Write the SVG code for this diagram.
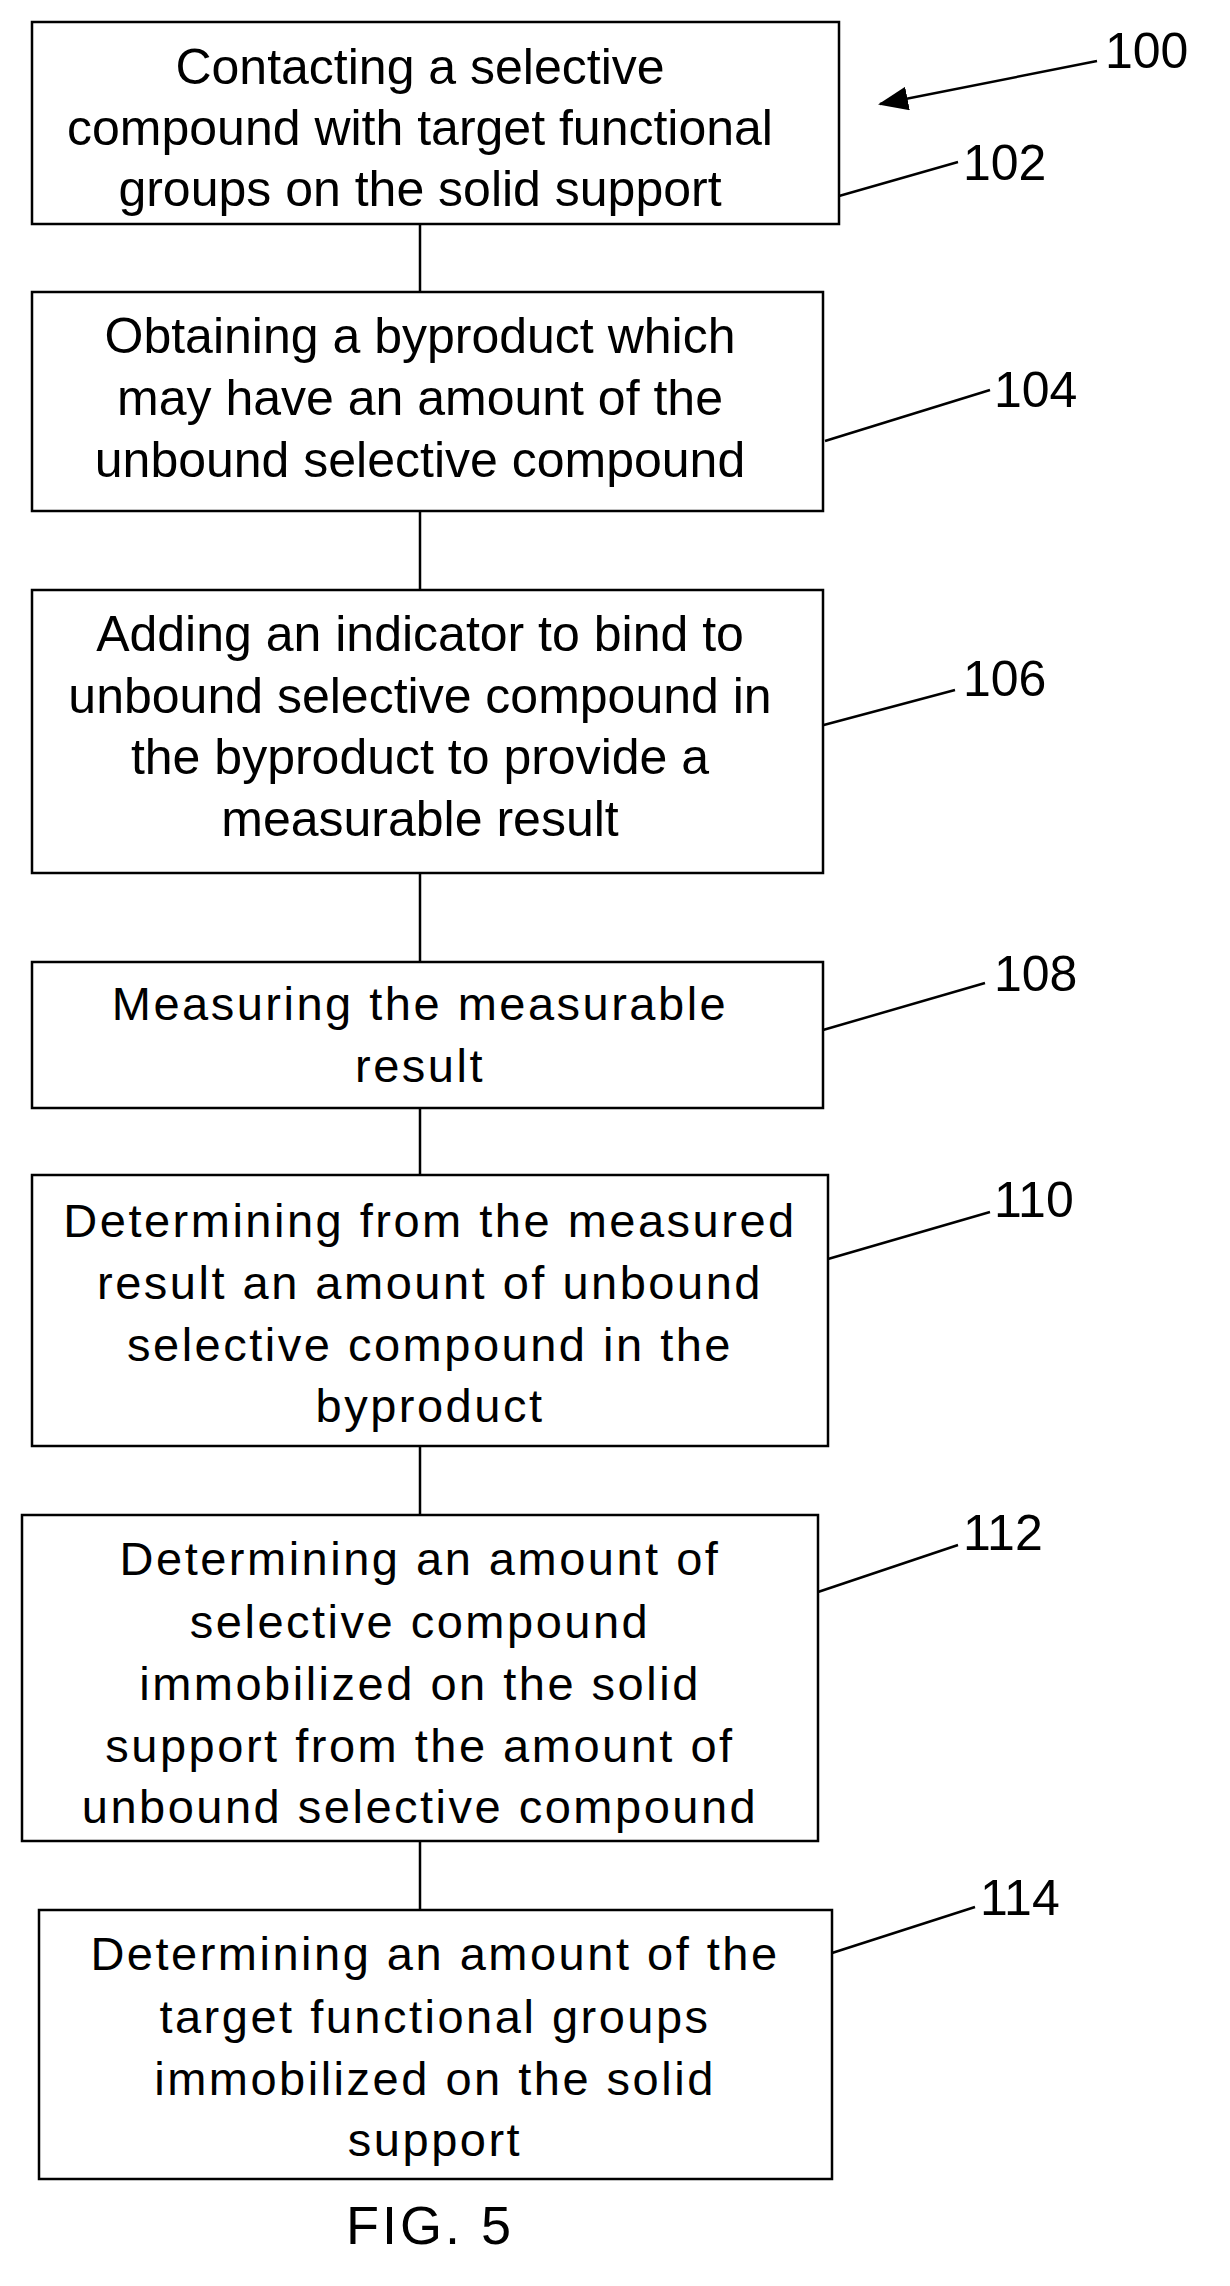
<svg xmlns="http://www.w3.org/2000/svg" width="1230" height="2286" viewBox="0 0 1230 2286">
<style>
.b{fill:#fff;stroke:#000;stroke-width:2.5}
.t{font-family:"Liberation Sans",Arial,sans-serif;font-size:50px;text-anchor:middle;fill:#000}
.w{font-size:47px;letter-spacing:2.5px}
.n{font-family:"Liberation Sans",Arial,sans-serif;font-size:50px;fill:#000}
.l{stroke:#000;stroke-width:2.5;fill:none}
</style>
<defs>
<marker id="ah" markerWidth="30" markerHeight="24" refX="28" refY="12" orient="auto" markerUnits="userSpaceOnUse"><path d="M0,0L30,12L0,24z" fill="#000"/></marker></defs>
<g id="connectors">
<line class="l" x1="420" y1="224" x2="420" y2="292"/>
<line class="l" x1="420" y1="511" x2="420" y2="590"/>
<line class="l" x1="420" y1="873" x2="420" y2="962"/>
<line class="l" x1="420" y1="1108" x2="420" y2="1175"/>
<line class="l" x1="420" y1="1446" x2="420" y2="1515"/>
<line class="l" x1="420" y1="1841" x2="420" y2="1910"/>
<line class="l" x1="1097" y1="61" x2="880" y2="104" marker-end="url(#ah)"/>
<line class="l" x1="825" y1="200" x2="958" y2="162"/>
<line class="l" x1="825" y1="441" x2="990" y2="390"/>
<line class="l" x1="820" y1="726" x2="955" y2="690"/>
<line class="l" x1="823" y1="1030" x2="985" y2="983"/>
<line class="l" x1="828" y1="1259" x2="990" y2="1212"/>
<line class="l" x1="818" y1="1592" x2="958" y2="1545"/>
<line class="l" x1="832" y1="1953" x2="975" y2="1907"/>
</g>
<text class="n" x="1105" y="68">100</text>
<text class="n" x="963" y="180">102</text>
<text class="n" x="994" y="407">104</text>
<text class="n" x="963" y="696">106</text>
<text class="n" x="994" y="991">108</text>
<text class="n" x="994" y="1217">110</text>
<text class="n" x="963" y="1550">112</text>
<text class="n" x="980" y="1915">114</text>
<g id="n102"><rect class="b" x="32" y="22" width="807" height="202"/>
<text class="t" x="420" y="84">Contacting a selective</text><text class="t" x="420" y="145">compound with target functional</text><text class="t" x="420" y="206">groups on the solid support</text></g>
<g id="n104"><rect class="b" x="32" y="292" width="791" height="219"/>
<text class="t" x="420" y="353">Obtaining a byproduct which</text><text class="t" x="420" y="415">may have an amount of the</text><text class="t" x="420" y="477">unbound selective compound</text></g>
<g id="n106"><rect class="b" x="32" y="590" width="791" height="283"/>
<text class="t" x="420" y="651">Adding an indicator to bind to</text><text class="t" x="420" y="713">unbound selective compound in</text><text class="t" x="420" y="774">the byproduct to provide a</text><text class="t" x="420" y="836">measurable result</text></g>
<g id="n108"><rect class="b" x="32" y="962" width="791" height="146"/>
<text class="t w" x="420" y="1020">Measuring the measurable</text><text class="t w" x="420" y="1082">result</text></g>
<g id="n110"><rect class="b" x="32" y="1175" width="796" height="271"/>
<text class="t w" x="430" y="1237">Determining from the measured</text><text class="t w" x="430" y="1299">result an amount of unbound</text><text class="t w" x="430" y="1361">selective compound in the</text><text class="t w" x="430" y="1422">byproduct</text></g>
<g id="n112"><rect class="b" x="22" y="1515" width="796" height="326"/>
<text class="t w" x="420" y="1575">Determining an amount of</text><text class="t w" x="420" y="1638">selective compound</text><text class="t w" x="420" y="1700">immobilized on the solid</text><text class="t w" x="420" y="1762">support from the amount of</text><text class="t w" x="420" y="1823">unbound selective compound</text></g>
<g id="n114"><rect class="b" x="39" y="1910" width="793" height="269"/>
<text class="t w" x="435" y="1970">Determining an amount of the</text><text class="t w" x="435" y="2033">target functional groups</text><text class="t w" x="435" y="2095">immobilized on the solid</text><text class="t w" x="435" y="2156">support</text></g>
<text class="t" x="430" y="2244" style="font-size:54px;letter-spacing:3px">FIG. 5</text>
</svg>
